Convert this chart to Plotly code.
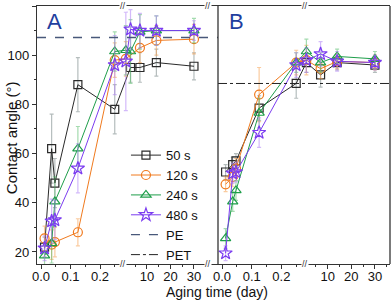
import plotly.graph_objects as go

# ---------------- data ----------------
X_A = [0.012, 0.036, 0.047, 0.125, 0.25, 1, 3, 7, 14, 30]
A_50 = [22, 62, 48, 88, 78, None, 95, 95, 97, 95.5]
A_50_err = [4, 14, 10, 11, 10, None, 6, 6, 5.5, 5.5]
A_120 = [25.5, 23, 24, 28, 98, 98.5, None, 103, 106, 106.5]
A_120_err = [5, 6, 6, 5.5, 7, 7, None, 6, 6, 6]
A_240 = [18.5, 23.5, 40.5, 62, 101.5, 102, 101.5, 109.5, 110, 110]
A_240_err = [4, 8, 10, 9, 8, 10, 13, 7, 6, 5]
A_480 = [21.5, 32.5, 33, 54, 96, 97.5, 110.5, 110, 110, 110]
A_480_err = [5, 9, 8, 10, 12, 20, 8, 7, 6, 4]

X_B = [0.012, 0.036, 0.047, 0.125, 0.25, 1, 7, 14, 30]
B_50 = [52.5, 55.5, 57, 78.5, 88.5, 97, 92, 97, 96]
B_50_err = [3, 3, 3, 5, 6, 4, 5, 3, 3]
B_120 = [47.5, 50.5, 54, 84, 97, 98, 94.5, 97.5, 97]
B_120_err = [3, 4, 4, 11, 5, 6, 4, 3, 3]
B_240 = [25.5, 40.5, 45, 76.5, 97, 101.5, 97, 99.5, 98.5]
B_240_err = [4, 4, 4, 6, 4, 5, 4, 3, 3]
B_480 = [19.5, 52, 52.5, 68.5, 96, 98, 100.5, 97.5, 97]
B_480_err = [3, 4, 4, 6, 5, 5, 5, 4, 3]

PE = 107.2
PET = 88.5

SERIES = ["50 s", "120 s", "240 s", "480 s"]
SEG1_TICKS = [0.0, 0.1, 0.2]
SEG1_MINOR = [0.05, 0.15, 0.25]
SEG2_TICKS = [10, 20, 30]
SEG2_MINOR = [5, 15, 25, 35]
SEG1_LABELS = ["0.0", "0.1", "0.2"]
SEG2_LABELS = ["10", "20", "30"]

# ---------------- styles ----------------
COLORS = ["#2a2a2a", "#F07A1E", "#1E9E4A", "#7B3CF0"]
ERR_COLORS = ["rgba(120,135,135,0.55)", "rgba(245,160,80,0.55)",
              "rgba(90,190,110,0.55)", "rgba(175,130,245,0.55)"]
SYMBOLS = ["square-open", "circle-open", "triangle-up-open", "star-open"]
SIZES = [8, 9, 9, 10]
FONT = "Liberation Sans, Arial, sans-serif"

# broken x axis: linear segment [SEG1_LO, SEG1_HI] then linear day segment
SEG1_LO, SEG1_HI, SEG1_LEN = -0.0136, 0.278, 86.0
SEG2_SCALE = 2.35


def make_warp(seg2_origin):
    def warp(x):
        if x is None:
            return None
        if x <= SEG1_HI:
            return (x - SEG1_LO) / (SEG1_HI - SEG1_LO) * SEG1_LEN
        return SEG1_LEN + (x - seg2_origin) * SEG2_SCALE
    return warp


warp_a = make_warp(-0.2)
warp_b = make_warp(0.2)
RANGE_A = [0, 181]
RANGE_B = [0, 171]
PLOT_W = 353
SPLIT = RANGE_A[1] / PLOT_W

fig = go.Figure()

panels = [
    ("x", X_A, [A_50, A_120, A_240, A_480], [A_50_err, A_120_err, A_240_err, A_480_err], warp_a, True),
    ("x2", X_B, [B_50, B_120, B_240, B_480], [B_50_err, B_120_err, B_240_err, B_480_err], warp_b, False),
]
for xa, xs, ys, errs, warp, show in panels:
    xw = [warp(v) for v in xs]
    for i in range(4):
        fig.add_trace(go.Scatter(
            x=xw, y=ys[i], xaxis=xa, yaxis="y",
            mode="lines+markers", name=SERIES[i], showlegend=show,
            legendgroup=SERIES[i], connectgaps=True,
            line=dict(color=COLORS[i], width=1),
            marker=dict(symbol=SYMBOLS[i], size=SIZES[i], color=COLORS[i],
                        line=dict(width=1.2, color=COLORS[i])),
            error_y=dict(type="data", array=errs[i], color=ERR_COLORS[i],
                         thickness=1.2, width=2),
        ))

# reference lines (PE in panel A, PET in panel B)
fig.add_shape(type="line", xref="x domain", yref="y", x0=0, x1=1, y0=PE, y1=PE,
              line=dict(color="#48587A", width=1.3, dash="dash"),
              showlegend=True, name="PE")
fig.add_shape(type="line", xref="x2 domain", yref="y", x0=0, x1=1, y0=PET, y1=PET,
              line=dict(color="#222222", width=1, dash="dashdot"),
              showlegend=True, name="PET")

axis_common = dict(showline=True, linecolor="#333333", linewidth=1.3, mirror=True,
                   ticks="outside", ticklen=4, tickwidth=1, tickcolor="#333333",
                   showgrid=False, zeroline=False, automargin=False,
                   tickfont=dict(family=FONT, size=13, color="#111111"))


def xaxis_for(warp, rng, dom):
    return dict(axis_common, range=rng, domain=dom, anchor="y",
                tickmode="array", ticklabelstandoff=-4,
                tickvals=[warp(v) for v in SEG1_TICKS] + [warp(v) for v in SEG2_TICKS],
                ticktext=SEG1_LABELS + SEG2_LABELS,
                minor=dict(tickmode="array",
                           tickvals=[warp(v) for v in SEG1_MINOR] + [warp(v) for v in SEG2_MINOR],
                           ticks="outside", ticklen=2, tickcolor="#333333"))


fig.update_layout(
    width=392, height=306,
    margin=dict(l=37, r=2, t=6, b=42, autoexpand=False),
    paper_bgcolor="white", plot_bgcolor="white",
    font=dict(family=FONT, size=13, color="#111111"),
    xaxis=xaxis_for(warp_a, RANGE_A, [0, SPLIT]),
    xaxis2=xaxis_for(warp_b, RANGE_B, [SPLIT, 1]),
    yaxis=dict(axis_common, range=[15.1, 120], anchor="x", mirror=False,
               tickvals=[20, 40, 60, 80, 100, 120],
               minor=dict(tickvals=[30, 50, 70, 90, 110], ticks="outside",
                          ticklen=2, tickcolor="#333333")),
    legend=dict(x=0.252, y=0.48, xanchor="left", yanchor="top",
                bgcolor="rgba(0,0,0,0)", font=dict(family=FONT, size=13),
                tracegroupgap=0, itemwidth=30),
    showlegend=True,
)

# panel divider and right frame
for xp in [SPLIT, 1]:
    fig.add_shape(type="line", xref="paper", yref="paper", x0=xp, x1=xp, y0=0, y1=1,
                  line=dict(color="#333333", width=1.3))

# axis break marks
breaks = [("x", warp_a(SEG1_HI)), ("x", warp_a(35.9)), ("x2", warp_b(SEG1_HI) + 0.5)]
for xa, xv in breaks:
    for yp in [0, 1]:
        fig.add_annotation(xref=xa, yref="paper", x=xv, y=yp, text="//",
                           showarrow=False, bgcolor="white", borderpad=0,
                           xanchor="center", yanchor="middle",
                           font=dict(family=FONT, size=9, color="#333333"))

# panel letters
fig.add_annotation(xref="x domain", yref="paper", x=0.045, y=0.94, text="A",
                   showarrow=False, xanchor="left", yanchor="middle",
                   font=dict(family=FONT, size=22, color="#1F3F9F"))
fig.add_annotation(xref="x2 domain", yref="paper", x=0.055, y=0.94, text="B",
                   showarrow=False, xanchor="left", yanchor="middle",
                   font=dict(family=FONT, size=22, color="#1F3F9F"))

# axis titles
fig.add_annotation(xref="paper", yref="paper", x=0.51, y=-0.108, text="Aging time (day)",
                   showarrow=False, xanchor="center", yanchor="middle",
                   font=dict(family=FONT, size=14, color="#111111"))
fig.add_annotation(xref="paper", yref="paper", x=-0.072, y=0.49, text="Contact angle (°)",
                   showarrow=False, textangle=-90, xanchor="center", yanchor="middle",
                   font=dict(family=FONT, size=15, color="#111111"))

fig.write_html(
    "out.html",
    config={"displayModeBar": False},
    post_script="document.body.style.margin='0';document.body.style.overflow='hidden';",
)
